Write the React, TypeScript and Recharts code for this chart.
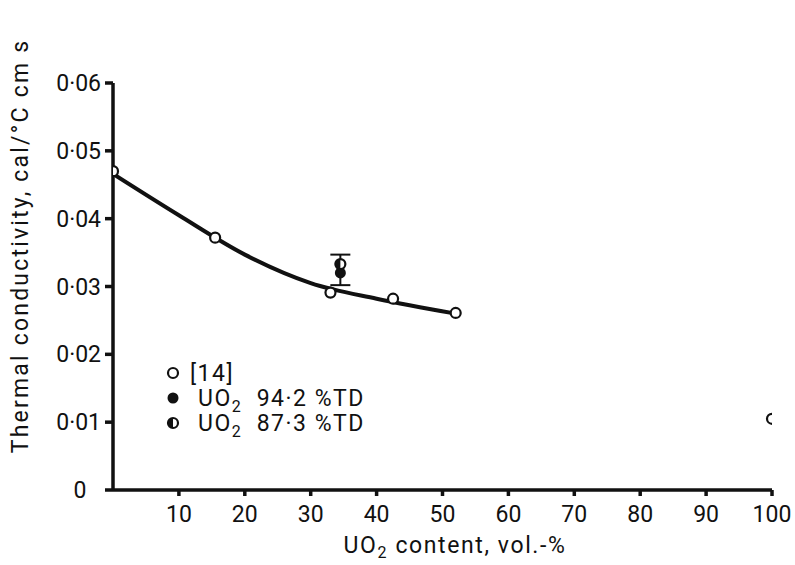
import {
  ComposedChart,
  Line,
  Scatter,
  XAxis,
  YAxis,
  ErrorBar,
} from "recharts";

// reference [14] points (open circles)
const refX = [0, 15.5, 33, 42.5, 52, 100];
const refY = [0.047, 0.0372, 0.0291, 0.0282, 0.0261, 0.0105];

// fitted curve
const curveX = [0, 10, 20, 30, 40, 52];
const curveY = [0.0466, 0.0405, 0.0347, 0.0305, 0.0282, 0.026];

// UO2 94.2 %TD (filled) and 87.3 %TD (half filled)
const densX = [34.5];
const densY = [0.032];
const densErr = [[0.0018, 0.0027]];
const halfX = [34.5];
const halfY = [0.0333];

const xTicks = [10, 20, 30, 40, 50, 60, 70, 80, 90, 100];
const yTicks = [0, 0.01, 0.02, 0.03, 0.04, 0.05, 0.06];

const refData = refX.map((x, i) => ({ x, y: refY[i] }));
const curveData = curveX.map((x, i) => ({ x, y: curveY[i] }));
const densData = densX.map((x, i) => ({ x, y: densY[i], err: densErr[i] }));
const halfData = halfX.map((x, i) => ({ x, y: halfY[i] }));

const FONT = "Roboto, 'DejaVu Sans', sans-serif";
const INK = "#111";
const FS = 23;

const OpenDot = (p: any) => (
  <circle cx={p.cx} cy={p.cy} r={5} fill="#fff" stroke={INK} strokeWidth={2.2} />
);
const FullDot = (p: any) => <circle cx={p.cx} cy={p.cy} r={5.5} fill={INK} />;
const HalfDot = (p: any) => (
  <g>
    <circle cx={p.cx} cy={p.cy} r={5} fill="#fff" stroke={INK} strokeWidth={2.2} />
    <path d={`M${p.cx},${p.cy - 5} A5,5 0 0,0 ${p.cx},${p.cy + 5} Z`} fill={INK} />
  </g>
);

const legendRows = [
  { pre: "[14]", sub: "", post: "", Dot: OpenDot },
  { pre: "UO", sub: "2", post: "  94\u00b72 %TD", Dot: FullDot },
  { pre: "UO", sub: "2", post: "  87\u00b73 %TD", Dot: HalfDot },
];

function LegendBox() {
  return (
    <svg width={260} height={90} style={{ position: "absolute", left: 160, top: 357 }}>
      {legendRows.map((r, i) => (
        <g key={i}>
          <r.Dot cx={13} cy={16 + i * 25} />
          <text
            x={i === 0 ? 30 : 38}
            y={24 + i * 25}
            fontSize={FS}
            fontFamily={FONT}
            fill={INK}
            letterSpacing={1.5}
            style={{ whiteSpace: "pre" }}
          >
            {r.pre}
            {r.sub && (
              <tspan dy={6} fontSize={16}>
                {r.sub}
              </tspan>
            )}
            {r.post && <tspan dy={r.sub ? -6 : 0}>{r.post}</tspan>}
          </text>
        </g>
      ))}
    </svg>
  );
}

const YTick = (p: any) => {
  const v = p.payload.value;
  const label = v === 0 ? "0" : v.toFixed(2).replace(".", "\u00b7");
  return (
    <text
      x={v === 0 ? 80 : p.x - 2}
      y={p.y + 8}
      textAnchor={v === 0 ? "middle" : "end"}
      fontSize={FS}
      fontFamily={FONT}
      fill={INK}
    >
      {label}
    </text>
  );
};

export default function App() {
  return (
    <div style={{ position: "absolute", left: 0, top: 0, width: 795, height: 565, background: "#fff" }}>
      <ComposedChart
        width={795}
        height={565}
        margin={{ top: 83, right: 23, bottom: 20, left: 0 }}
      >
        <XAxis
          dataKey="x"
          type="number"
          domain={[0, 100]}
          ticks={xTicks}
          allowDataOverflow
          stroke={INK}
          strokeWidth={3.5}
          tickSize={6}
          tick={{ fontSize: FS, fontFamily: FONT, fill: INK, dy: 8 }}
          height={55}
          label={{
            content: () => (
              <text
                x={455}
                y={553}
                textAnchor="middle"
                fontSize={FS}
                fontFamily={FONT}
                fill={INK}
                letterSpacing={1.6}
              >
                UO<tspan dy={5} fontSize={16}>2</tspan>
                <tspan dy={-5}> content, vol.-%</tspan>
              </text>
            ),
          }}
        />
        <YAxis
          dataKey="y"
          type="number"
          domain={[0, 0.06]}
          ticks={yTicks}
          stroke={INK}
          strokeWidth={3.5}
          tickSize={8}
          width={113}
          tick={<YTick />}
          label={{
            content: () => (
              <text
                x={28}
                y={246}
                transform="rotate(-90 28 246)"
                textAnchor="middle"
                fontSize={FS}
                fontFamily={FONT}
                fill={INK}
                letterSpacing={2.2}
              >
                Thermal conductivity, cal/°C cm s
              </text>
            ),
          }}
        />
        <Line
          data={curveData}
          dataKey="y"
          type="monotone"
          stroke={INK}
          strokeWidth={4}
          dot={false}
          isAnimationActive={false}
          legendType="none"
        />
        <Scatter data={refData} dataKey="y" shape={<OpenDot />} isAnimationActive={false} />
        <Scatter data={densData} dataKey="y" shape={<FullDot />} isAnimationActive={false}>
          <ErrorBar dataKey="err" direction="y" width={10} stroke={INK} strokeWidth={2} />
        </Scatter>
        <Scatter data={halfData} dataKey="y" shape={<HalfDot />} isAnimationActive={false} />
      </ComposedChart>
      <LegendBox />
    </div>
  );
}
